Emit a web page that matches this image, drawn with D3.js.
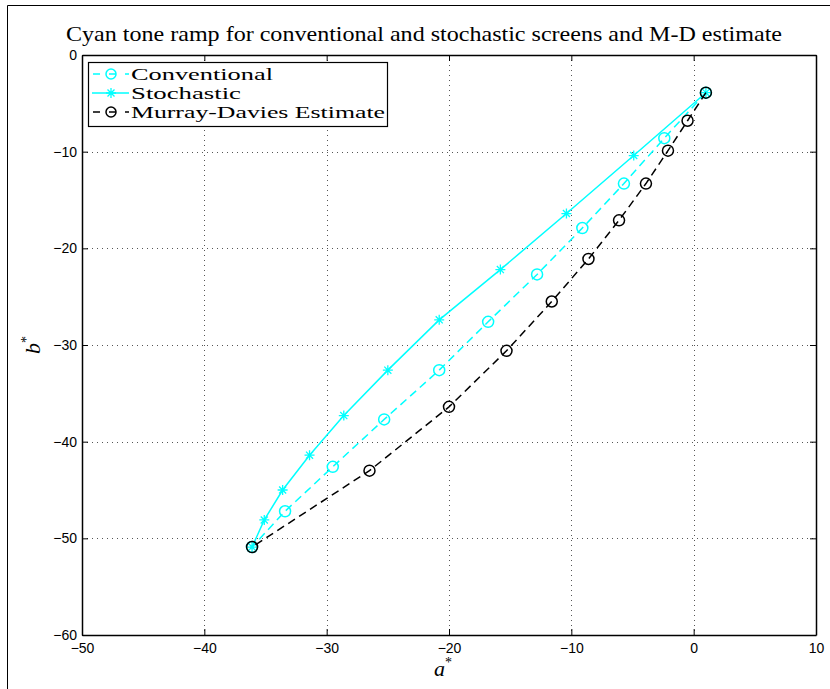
<!DOCTYPE html>
<html><head><meta charset="utf-8">
<script src="https://cdn.jsdelivr.net/npm/d3@7"></script>
<style>body{margin:0;background:#fff}svg{display:block}</style>
</head><body>
<svg id="c" width="830" height="689"></svg>
<script>
const titleText = "Cyan tone ramp for conventional and stochastic screens and M-D estimate";
const xTicks = [-50,-40,-30,-20,-10,0,10];
const yTicks = [0,-10,-20,-30,-40,-50,-60];
const seriesNames = ["Conventional","Stochastic","Murray-Davies Estimate"];
const convA = [1.0,-2.4,-5.7,-9.1,-12.8,-16.8,-20.8,-25.3,-29.5,-33.4,-36.1];
const convB = [-3.9,-8.6,-13.3,-17.9,-22.7,-27.6,-32.6,-37.7,-42.6,-47.2,-50.9];
const stocA = [1.0,-4.9,-10.4,-15.8,-20.8,-25.0,-28.6,-31.4,-33.6,-35.1,-36.1];
const stocB = [-3.9,-10.4,-16.4,-22.2,-27.4,-32.6,-37.3,-41.4,-45.0,-48.1,-50.9];
const mdA = [1.0,-0.5,-2.1,-3.9,-6.1,-8.6,-11.6,-15.3,-20.0,-26.5,-36.1];
const mdB = [-3.9,-6.8,-9.9,-13.3,-17.1,-21.1,-25.5,-30.6,-36.4,-43.0,-50.9];

const svg = d3.select("#c");
const L=82,R=816,T=55,B=635;
const x = d3.scaleLinear().domain([-50,10]).range([L,R]);
const y = d3.scaleLinear().domain([-60,0]).range([B,T]);

// outer frame
svg.append("path").attr("d","M7.5,689 V5.5 H830").attr("fill","none").attr("stroke","#000").attr("stroke-width",1);

// grid
const g = svg.append("g");
g.selectAll(".gx").data(xTicks.filter(d=>d>-50&&d<10)).enter().append("line")
 .attr("x1",d=>Math.round(x(d))+0.5).attr("x2",d=>Math.round(x(d))+0.5).attr("y1",T).attr("y2",B)
 .attr("stroke","#555").attr("stroke-width",1).attr("stroke-dasharray","1,4");
g.selectAll(".gy").data(yTicks.filter(d=>d<0&&d>-60)).enter().append("line")
 .attr("y1",d=>Math.round(y(d))+0.5).attr("y2",d=>Math.round(y(d))+0.5).attr("x1",L).attr("x2",R)
 .attr("stroke","#555").attr("stroke-width",1).attr("stroke-dasharray","1,4");

// axes
const fontSans = "'Liberation Sans', Arial, sans-serif";
const ax = svg.append("g").attr("transform",`translate(0,${B})`)
 .call(d3.axisBottom(x).tickValues(xTicks).tickSizeInner(-6).tickSizeOuter(0).tickPadding(8));
const ay = svg.append("g").attr("transform",`translate(${L},0)`)
 .call(d3.axisLeft(y).tickValues(yTicks).tickSizeInner(-6).tickSizeOuter(0).tickPadding(5));
const axT = svg.append("g").attr("transform",`translate(0,${T})`)
 .call(d3.axisTop(x).tickValues(xTicks).tickSizeInner(-6).tickSizeOuter(0).tickFormat(""));
const ayR = svg.append("g").attr("transform",`translate(${R},0)`)
 .call(d3.axisRight(y).tickValues(yTicks).tickSizeInner(-6).tickSizeOuter(0).tickFormat(""));
[ax,ay,axT,ayR].forEach(a=>{
  a.select(".domain").attr("stroke","#000").attr("stroke-width",1.5);
  a.selectAll(".tick line").attr("stroke","#000");
  a.selectAll("text").attr("font-family",fontSans).attr("font-size",14).attr("fill","#000");
});

// series
const line = d3.line().x(d=>x(d[0])).y(d=>y(d[1]));
const conv = convA.map((a,i)=>[a,convB[i]]);
const stoc = stocA.map((a,i)=>[a,stocB[i]]);
const md = mdA.map((a,i)=>[a,mdB[i]]);
const cyan = "#00ffff";

function circles(data,color){
  svg.append("g").selectAll("circle").data(data).enter().append("circle")
   .attr("cx",d=>x(d[0])).attr("cy",d=>y(d[1])).attr("r",5.5)
   .attr("fill","none").attr("stroke",color).attr("stroke-width",1.5);
}
function stars(data,color){
  const s=5;
  const p = d=>{const cx=x(d[0]),cy=y(d[1]);const k=s*0.707;
    return `M${cx-s},${cy}H${cx+s}M${cx},${cy-s}V${cy+s}M${cx-k},${cy-k}L${cx+k},${cy+k}M${cx-k},${cy+k}L${cx+k},${cy-k}`;};
  svg.append("g").selectAll("path").data(data).enter().append("path")
   .attr("d",p).attr("stroke",color).attr("stroke-width",1.3).attr("fill","none");
}

svg.append("path").datum(conv).attr("d",line).attr("fill","none").attr("stroke",cyan).attr("stroke-width",1.5).attr("stroke-dasharray","8,5");
circles(conv,cyan);
svg.append("path").datum(stoc).attr("d",line).attr("fill","none").attr("stroke",cyan).attr("stroke-width",1.5);
stars(stoc,cyan);
svg.append("path").datum(md).attr("d",line).attr("fill","none").attr("stroke","#000").attr("stroke-width",1.5).attr("stroke-dasharray","8,5");
circles(md,"#000");

// legend
const fontSerif = "'Liberation Serif','DejaVu Serif',serif";
const lg = svg.append("g");
lg.append("rect").attr("x",88.5).attr("y",62.5).attr("width",299).attr("height",64).attr("fill","#fff").attr("stroke","#000").attr("stroke-width",1.2);
const legY = [74,93,112];
const legW = [142,110,254];
const legStyle = [
  {color:cyan,dash:"6,6",mk:"o"},
  {color:cyan,dash:null,mk:"*"},
  {color:"#000",dash:"6,6",mk:"o"}];
seriesNames.forEach((n,i)=>{
  const yy = legY[i];
  const l = lg.append("line").attr("x1",92).attr("x2",129).attr("y1",yy).attr("y2",yy)
    .attr("stroke",legStyle[i].color).attr("stroke-width",1.5);
  if(legStyle[i].dash) l.attr("stroke-dasharray","7,9").attr("stroke-dashoffset",-1);
  if(legStyle[i].mk==="o"){
    lg.append("circle").attr("cx",111).attr("cy",yy).attr("r",5).attr("fill","none").attr("stroke",legStyle[i].color).attr("stroke-width",1.5);
  } else {
    const s=5,k=3.5,cx=111,cy=yy;
    lg.append("path").attr("d",`M${cx-s},${cy}H${cx+s}M${cx},${cy-s}V${cy+s}M${cx-k},${cy-k}L${cx+k},${cy+k}M${cx-k},${cy+k}L${cx+k},${cy-k}`)
      .attr("stroke",legStyle[i].color).attr("stroke-width",1.3);
  }
  lg.append("text").attr("x",131).attr("y",yy+5.5).text(n)
    .attr("font-family",fontSerif).attr("font-size",17).attr("fill","#000")
    .attr("textLength",legW[i]).attr("lengthAdjust","spacingAndGlyphs");
});

// title
svg.append("text").attr("x",66).attr("y",41).text(titleText)
  .attr("font-family",fontSerif).attr("font-size",21).attr("fill","#000")
  .attr("textLength",716).attr("lengthAdjust","spacingAndGlyphs");

// axis labels
const xl = svg.append("text").attr("x",443).attr("y",676).attr("text-anchor","middle")
  .attr("font-family",fontSerif).attr("font-size",22).attr("font-style","italic");
xl.append("tspan").text("a");
xl.append("tspan").text("*").attr("font-size",14).attr("dy",-9).attr("font-style","normal");
const yl = svg.append("text").attr("transform","translate(40,345) rotate(-90)").attr("text-anchor","middle")
  .attr("font-family",fontSerif).attr("font-size",22).attr("font-style","italic");
yl.append("tspan").text("b");
yl.append("tspan").text("*").attr("font-size",14).attr("dy",-9).attr("font-style","normal");
</script>
</body></html>
